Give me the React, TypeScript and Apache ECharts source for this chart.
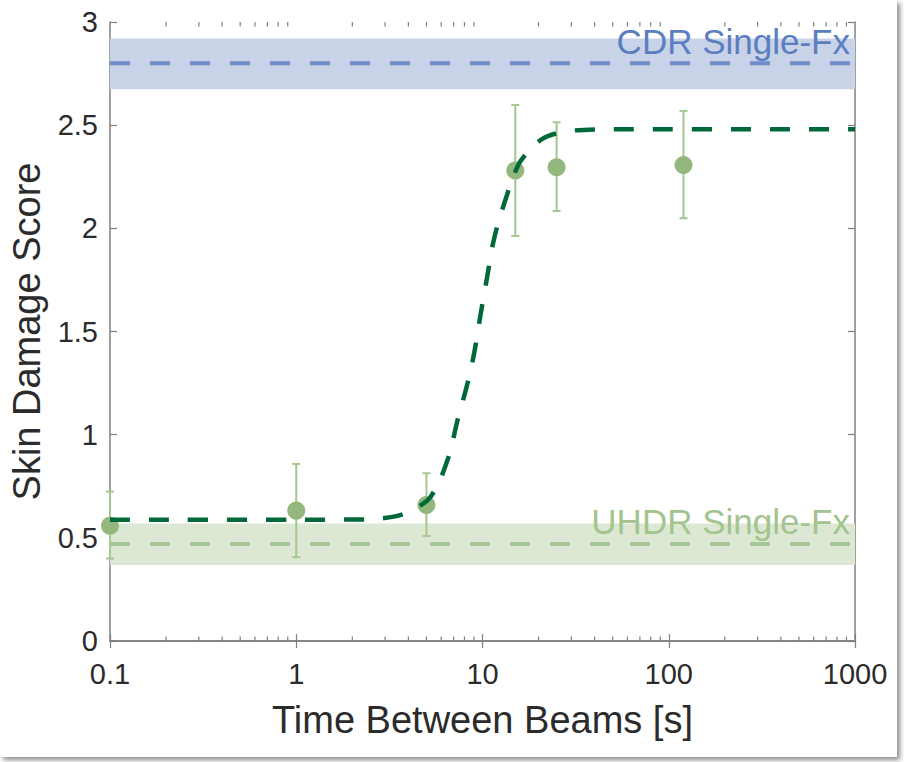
import React, { useEffect, useRef } from "react";
import * as echarts from "echarts";

// ---- data ----
const beamTimes = [0.1, 1, 5, 15, 25, 120];
const meanScores = [0.559, 0.632, 0.659, 2.28, 2.296, 2.307];
const errLow = [0.4, 0.406, 0.509, 1.963, 2.084, 2.049];
const errHigh = [0.724, 0.858, 0.813, 2.598, 2.514, 2.569];

const fitX = [0.1, 1, 2.2, 2.9, 3.65, 4.4, 5.28, 6.49, 7.35, 8.31, 9.02, 9.79, 10.6, 11.5, 13.1, 15.4, 16.7, 20.5, 25.2, 35, 60, 1000];
const fitY = [0.588, 0.588, 0.589, 0.595, 0.611, 0.645, 0.7, 0.877, 1.071, 1.249, 1.395, 1.588, 1.766, 1.944, 2.122, 2.299, 2.348, 2.428, 2.461, 2.477, 2.48, 2.48];

const cdrBand = [2.674, 2.92];
const cdrMean = 2.8;
const uhdrBand = [0.368, 0.57];
const uhdrMean = 0.47;

const xRange = [0.1, 1000];
const minorTicks = [
  0.2, 0.3, 0.4, 0.5, 0.6, 0.7, 0.8, 0.9,
  2, 3, 4, 5, 6, 7, 8, 9,
  20, 30, 40, 50, 60, 70, 80, 90,
  200, 300, 400, 500, 600, 700, 800, 900,
];

const FONT = '"Liberation Sans", Arial, Helvetica, sans-serif';
const AXIS_COLOR = "#7f7f7f";
const TEXT_COLOR = "#2b2b2b";

export default function App() {
  const ref = useRef<HTMLDivElement>(null);

  useEffect(() => {
    if (!ref.current) return;
    const chart = echarts.init(ref.current, undefined, { renderer: "svg" });

    const xAxisBase = {
      type: "log" as const,
      logBase: 10,
      min: xRange[0],
      max: xRange[1],
      splitLine: { show: false },
      axisLine: { show: true, lineStyle: { color: AXIS_COLOR, width: 1.5 } },
      axisTick: { show: true, inside: true, length: 7, lineStyle: { color: AXIS_COLOR, width: 1.2 } },
      minorTick: { show: false },
    };
    const yAxisBase = {
      type: "value" as const,
      min: 0,
      max: 3,
      interval: 0.5,
      splitLine: { show: false },
      axisLine: { show: true, lineStyle: { color: AXIS_COLOR, width: 1.5 } },
      axisTick: { show: true, inside: true, length: 7, lineStyle: { color: AXIS_COLOR, width: 1.2 } },
    };

    const option: any = {
      animation: false,
      backgroundColor: "#ffffff",
      grid: { left: 108, right: 42, top: 22, bottom: 116 },
      xAxis: [
        {
          ...xAxisBase,
          position: "bottom",
          name: "Time Between Beams [s]",
          nameLocation: "middle",
          nameGap: 60,
          nameTextStyle: { fontFamily: FONT, fontSize: 38, color: TEXT_COLOR },
          axisLabel: {
            show: true,
            margin: 18,
            fontFamily: FONT,
            fontSize: 29,
            color: TEXT_COLOR,
            formatter: (v: number) => String(+Number(v).toPrecision(4)),
          },
        },
        { ...xAxisBase, position: "top", axisLabel: { show: false } },
      ],
      yAxis: [
        {
          ...yAxisBase,
          position: "left",
          name: "Skin Damage Score",
          nameLocation: "middle",
          nameGap: 64,
          nameTextStyle: { fontFamily: FONT, fontSize: 38, color: TEXT_COLOR },
          axisLabel: { show: true, margin: 12, fontFamily: FONT, fontSize: 29, color: TEXT_COLOR },
        },
        { ...yAxisBase, position: "right", axisLabel: { show: false } },
      ],
      graphic: [
        {
          type: "text",
          x: 850,
          y: 41,
          z: 100,
          style: {
            text: "CDR Single-Fx",
            fill: "#5b7ec1",
            font: `35px ${FONT}`,
            align: "right",
            verticalAlign: "middle",
          },
        },
        {
          type: "text",
          x: 850,
          y: 521,
          z: 100,
          style: {
            text: "UHDR Single-Fx",
            fill: "#a3c48e",
            font: `35px ${FONT}`,
            align: "right",
            verticalAlign: "middle",
          },
        },
      ],
      series: [
        {
          name: "CDR",
          type: "line",
          z: 1,
          showSymbol: false,
          symbol: "none",
          data: [
            [xRange[0], cdrMean],
            [xRange[1], cdrMean],
          ],
          lineStyle: { color: "#6d8dca", width: 4, type: [20, 20] },
          markArea: {
            silent: true,
            itemStyle: { color: "#c9d3e7", opacity: 1 },
            data: [[{ yAxis: cdrBand[0] }, { yAxis: cdrBand[1] }]],
          },
        },
        {
          name: "UHDR",
          type: "line",
          z: 1,
          showSymbol: false,
          symbol: "none",
          data: [
            [xRange[0], uhdrMean],
            [xRange[1], uhdrMean],
          ],
          lineStyle: { color: "#a8c797", width: 4, type: [20, 20] },
          markArea: {
            silent: true,
            itemStyle: { color: "#dce8d4", opacity: 1 },
            data: [[{ yAxis: uhdrBand[0] }, { yAxis: uhdrBand[1] }]],
          },
        },
        {
          name: "minorTicks",
          type: "custom",
          z: 5,
          silent: true,
          data: minorTicks.map((v) => [v, 0]),
          encode: { x: 0, y: 1 },
          clip: false,
          renderItem: (params: any, api: any) => {
            const cs = params.coordSys;
            const px = api.coord([api.value(0), 0])[0];
            const top = cs.y;
            const bot = cs.y + cs.height;
            const style = { stroke: AXIS_COLOR, lineWidth: 1.2 };
            return {
              type: "group",
              children: [
                { type: "line", shape: { x1: px, y1: bot, x2: px, y2: bot - 4.5 }, style },
                { type: "line", shape: { x1: px, y1: top, x2: px, y2: top + 4.5 }, style },
              ],
            };
          },
        },
        {
          name: "errors",
          type: "custom",
          z: 2,
          data: beamTimes.map((t, i) => [t, errLow[i], errHigh[i]]),
          encode: { x: 0, y: [1, 2] },
          renderItem: (params: any, api: any) => {
            const x = api.value(0);
            const pLo = api.coord([x, api.value(1)]);
            const pHi = api.coord([x, api.value(2)]);
            const cap = 4;
            const style = { stroke: "#a6c690", lineWidth: 2 };
            return {
              type: "group",
              children: [
                { type: "line", shape: { x1: pLo[0], y1: pLo[1], x2: pHi[0], y2: pHi[1] }, style },
                { type: "line", shape: { x1: pLo[0] - cap, y1: pLo[1], x2: pLo[0] + cap, y2: pLo[1] }, style },
                { type: "line", shape: { x1: pHi[0] - cap, y1: pHi[1], x2: pHi[0] + cap, y2: pHi[1] }, style },
              ],
            };
          },
        },
        {
          name: "scores",
          type: "scatter",
          z: 3,
          symbol: "circle",
          symbolSize: 18,
          itemStyle: { color: "#93b77c", opacity: 1 },
          data: beamTimes.map((t, i) => [t, meanScores[i]]),
        },
        {
          name: "fit",
          type: "line",
          z: 4,
          smooth: 0.4,
          showSymbol: false,
          symbol: "none",
          data: fitX.map((x, i) => [x, fitY[i]]),
          lineStyle: { color: "#00693a", width: 4.5, type: [20, 19] },
        },
      ],
    };

    chart.setOption(option);
    return () => chart.dispose();
  }, []);

  return (
    <div
      style={{
        position: "absolute",
        left: 0,
        top: 0,
        width: 897,
        height: 757,
        background: "#ffffff",
        boxShadow: "3px 3px 5px rgba(0,0,0,0.45)",
      }}
    >
      <div ref={ref} style={{ width: 897, height: 757 }} />
    </div>
  );
}
